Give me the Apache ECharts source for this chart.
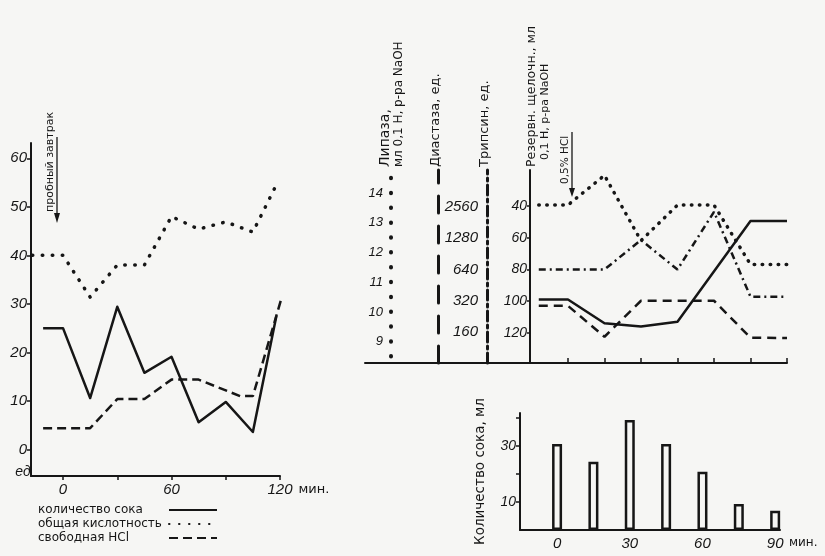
<!DOCTYPE html>
<html><head><meta charset="utf-8">
<script src="https://cdn.jsdelivr.net/npm/echarts@6/dist/echarts.min.js"></script>
<style>html,body{margin:0;padding:0;background:#f6f6f4}#c{width:825px;height:556px}</style>
</head><body><div id="c"></div>
<script>
// ---------- DATA ----------
// Left chart: time (min) vs value (units)
const juiceAmount  = [[-11,25],[0,25],[15,10.6],[30,29.4],[45,15.8],[60,19.1],[75,5.6],[90,9.8],[105,3.6],[118,27.5]];
const totalAcidity = [[-17,40],[0,40],[15,31.4],[30,38],[45,38],[60,48],[75,45.4],[90,46.9],[105,44.8],[119,55.3]];
const freeHCl      = [[-11,4.4],[15,4.4],[30,10.4],[45,10.4],[60,14.4],[75,14.4],[98,11],[105,11],[121,31.4]];
const leftYTicks  = [0,10,20,30,40,50,60];
const leftXTicks  = [0,30,60,90,120];
const leftXLabels = [0,60,120];
const leftNames = ['количество сока','общая кислотность','свободная HCl'];

// Right upper chart: time (min) vs four indicators
const lipase        = [[-12,13.6],[0,13.6],[15,14.6],[30,12.4],[45,13.6],[60,13.6],[75,11.6],[90,11.6]];
const diastase      = [[-12,286],[0,286],[15,144],[30,320],[45,320],[60,320],[75,141],[90,140]];
const trypsin       = [[-12,640],[0,640],[15,640],[30,1230],[45,640],[60,2300],[75,350],[90,350]];
const reserveAlkali = [[-12,99],[0,99],[15,114],[30,116],[45,113],[75,49.5],[90,49.5]];
const lipaseTicks = [9,10,11,12,13,14];
const enzymeTicks = [160,320,640,1280,2560];
const alkaliTicks = [40,60,80,100,120];
const rightXTicks = [0,15,30,45,60,75,90];

// Bottom bar chart
const barTimes  = [0,15,30,45,60,75,90];
const barJuice  = [30.7,24.4,39.3,30.7,20.8,9.3,6.9];
const barYTicks = [10,20,30,40];
const barYLabels = [10,30];
const barXLabels = [0,30,60,90];

// ---------- STYLE ----------
const INK = '#161616';
const BG = '#f6f6f4';
const num = (size) => ({fontFamily:'Liberation Sans', fontStyle:'italic', fontSize:size, color:INK});
const log2 = Math.log2;

const chart = echarts.init(document.getElementById('c'), null, {renderer:'canvas'});

function vtext(text, x, yBottom, size, extra) {
  return Object.assign({type:'text', x:x, y:yBottom, rotation:Math.PI/2,
    style:{text:text, fill:INK, fontSize:size, fontFamily:'DejaVu Sans', align:'left', verticalAlign:'middle'}}, extra||{});
}

const option = {
  backgroundColor: BG,
  animation: false,
  grid: [
    {left:31, top:143, width:249, height:333, outerBoundsMode:'none', containLabel:false},
    {left:365, top:170, width:422, height:193, outerBoundsMode:'none', containLabel:false},
    {left:520, top:413, width:260, height:117, outerBoundsMode:'none', containLabel:false}
  ],
  xAxis: [
    {gridIndex:0, type:'value', min:-17.7, max:120,
      axisLine:{show:true, onZero:false, lineStyle:{color:INK, width:2}},
      axisTick:{show:true, customValues:leftXTicks, length:4, lineStyle:{color:INK, width:1.5}},
      axisLabel:{show:true, customValues:leftXLabels, margin:6, ...num(15)},
      splitLine:{show:false},
      name:'мин.', nameLocation:'end', nameGap:15,
      nameTextStyle:{...num(13), fontStyle:'normal', fontFamily:'DejaVu Sans', verticalAlign:'top', padding:[7,0,0,0]}},
    {gridIndex:1, type:'value', min:-83.4, max:90,
      axisLine:{show:true, onZero:false, lineStyle:{color:INK, width:2}},
      axisTick:{show:true, inside:true, customValues:rightXTicks, length:5, lineStyle:{color:INK, width:1.5}},
      axisLabel:{show:false}, splitLine:{show:false}},
    {gridIndex:2, type:'value', min:-15.3, max:92,
      axisLine:{show:true, onZero:false, lineStyle:{color:INK, width:2}},
      axisTick:{show:false},
      axisLabel:{show:true, customValues:barXLabels, margin:6, ...num(15)},
      splitLine:{show:false},
      name:'мин.', nameLocation:'end', nameGap:9,
      nameTextStyle:{...num(12), fontStyle:'normal', fontFamily:'DejaVu Sans', verticalAlign:'top', padding:[7,0,0,0]}}
  ],
  yAxis: [
    {gridIndex:0, type:'value', min:-5.46, max:63.15,
      axisLine:{show:true, onZero:false, lineStyle:{color:INK, width:2}},
      axisTick:{show:true, customValues:leftYTicks, length:4, lineStyle:{color:INK, width:1.5}},
      axisLabel:{show:true, customValues:leftYTicks, margin:4, ...num(15)},
      splitLine:{show:false}},
    {gridIndex:1, type:'value', position:'left', offset:-26, min:8.28, max:14.78,
      axisLine:{show:true, onZero:false, lineStyle:{color:INK, width:4, type:[0.5,14.35], cap:'round', dashOffset:8.4}},
      axisTick:{show:false},
      axisLabel:{show:true, customValues:lipaseTicks, margin:8, ...num(13)},
      splitLine:{show:false}},
    {gridIndex:1, type:'value', position:'left', offset:-73, min:6.33, max:12.506,
      axisLine:{show:true, onZero:false, lineStyle:{color:INK, width:3, type:[17,13]}},
      axisTick:{show:false}, axisLabel:{show:false}, splitLine:{show:false}},
    {gridIndex:1, type:'value', position:'left', offset:-122, min:6.33, max:12.506,
      axisLine:{show:true, onZero:false, lineStyle:{color:INK, width:3, type:[10,4,3,4]}},
      axisTick:{show:false},
      axisLabel:{show:true, customValues:enzymeTicks.map(log2), margin:9, ...num(15),
        formatter:(v)=>String(Math.round(Math.pow(2, v)))},
      splitLine:{show:false}},
    {gridIndex:1, type:'value', position:'left', offset:-165, inverse:true, min:17.3, max:139.1,
      axisLine:{show:true, onZero:false, lineStyle:{color:INK, width:2}},
      axisTick:{show:true, customValues:alkaliTicks, length:3, lineStyle:{color:INK, width:1.5}},
      axisLabel:{show:true, customValues:alkaliTicks, margin:3, ...num(14)},
      splitLine:{show:false}},
    {gridIndex:2, type:'value', min:0, max:41.8,
      axisLine:{show:true, onZero:false, lineStyle:{color:INK, width:2}},
      axisTick:{show:true, customValues:barYTicks, length:4, lineStyle:{color:INK, width:1.5}},
      axisLabel:{show:true, customValues:barYLabels, margin:4, ...num(14)},
      splitLine:{show:false},
      name:'Количество сока, мл', nameLocation:'middle', nameGap:33,
      nameTextStyle:{fontFamily:'DejaVu Sans', fontSize:13.5, color:INK}}
  ],
  legend: {
    data: leftNames, orient:'vertical', left:33, top:498, align:'right',
    itemWidth:48, itemHeight:10, itemGap:0,
    itemStyle:{color:'rgba(0,0,0,0)', borderWidth:0},
    formatter:(name)=>'{t|' + name + '}',
    textStyle:{fontFamily:'DejaVu Sans', fontSize:12, color:INK, lineHeight:14,
      rich:{t:{width:126, align:'left', fontFamily:'DejaVu Sans', fontSize:12, color:INK, lineHeight:14}}}
  },
  series: [
    {type:'line', name:leftNames[0], xAxisIndex:0, yAxisIndex:0, data:juiceAmount, symbol:'none', clip:false,
      itemStyle:{color:INK}, lineStyle:{color:INK, width:2.5, join:'round'}},
    {type:'line', name:leftNames[1], xAxisIndex:0, yAxisIndex:0, data:totalAcidity, symbol:'none', clip:false,
      itemStyle:{color:INK}, lineStyle:{color:INK, width:3.5, type:[0.5,9.5], cap:'round'}},
    {type:'line', name:leftNames[2], xAxisIndex:0, yAxisIndex:0, data:freeHCl, symbol:'none', clip:false,
      itemStyle:{color:INK}, lineStyle:{color:INK, width:2.5, type:[9,5]}},

    {type:'line', name:'липаза', xAxisIndex:1, yAxisIndex:1, data:lipase, symbol:'none', clip:false,
      lineStyle:{color:INK, width:3.5, type:[0.5,7.5], cap:'round'}},
    {type:'line', name:'диастаза', xAxisIndex:1, yAxisIndex:2, data:diastase.map(p=>[p[0], log2(p[1])]), symbol:'none', clip:false,
      lineStyle:{color:INK, width:2.5, type:[9,6]}},
    {type:'line', name:'трипсин', xAxisIndex:1, yAxisIndex:3, data:trypsin.map(p=>[p[0], log2(p[1])]), symbol:'none', clip:false,
      lineStyle:{color:INK, width:2.5, type:[7,4,2,4]}},
    {type:'line', name:'резервная щелочность', xAxisIndex:1, yAxisIndex:4, data:reserveAlkali, symbol:'none', clip:false,
      lineStyle:{color:INK, width:2.5, join:'round'}},

    {type:'bar', name:'количество сока, мл', xAxisIndex:2, yAxisIndex:5,
      data:barTimes.map((t,i)=>[t, barJuice[i]]), barWidth:10,
      itemStyle:{color:BG, borderColor:INK, borderWidth:2.5}}
  ],
  graphic: [
    vtext('пробный завтрак', 50, 212, 11),
    {type:'line', shape:{x1:57, y1:137, x2:57, y2:216}, style:{stroke:INK, lineWidth:1.3}},
    {type:'polygon', shape:{points:[[54,213],[60,213],[57,223]]}, style:{fill:INK}},
    {type:'text', x:23, y:472, style:{text:'ед', fill:INK, fontSize:14, fontFamily:'Liberation Sans', fontStyle:'italic', align:'center', verticalAlign:'middle'}},

    vtext('Липаза,', 385, 167, 14),
    vtext('мл 0,1 Н, р-ра NaOH', 399, 167, 12),
    vtext('Диастаза, ед.', 436, 167, 13),
    vtext('Трипсин, ед.', 485, 167, 13),
    vtext('Резервн. щелочн., мл', 532, 167, 12.5),
    vtext('0,1 Н, р-ра NaOH', 545, 160, 11),
    vtext('0,5% HCl', 565, 184, 10.5),
    {type:'line', shape:{x1:572, y1:132, x2:572, y2:190}, style:{stroke:INK, lineWidth:1.3}},
    {type:'polygon', shape:{points:[[569,188],[575,188],[572,197]]}, style:{fill:INK}}
  ]
};
chart.setOption(option);
</script>
</body></html>
